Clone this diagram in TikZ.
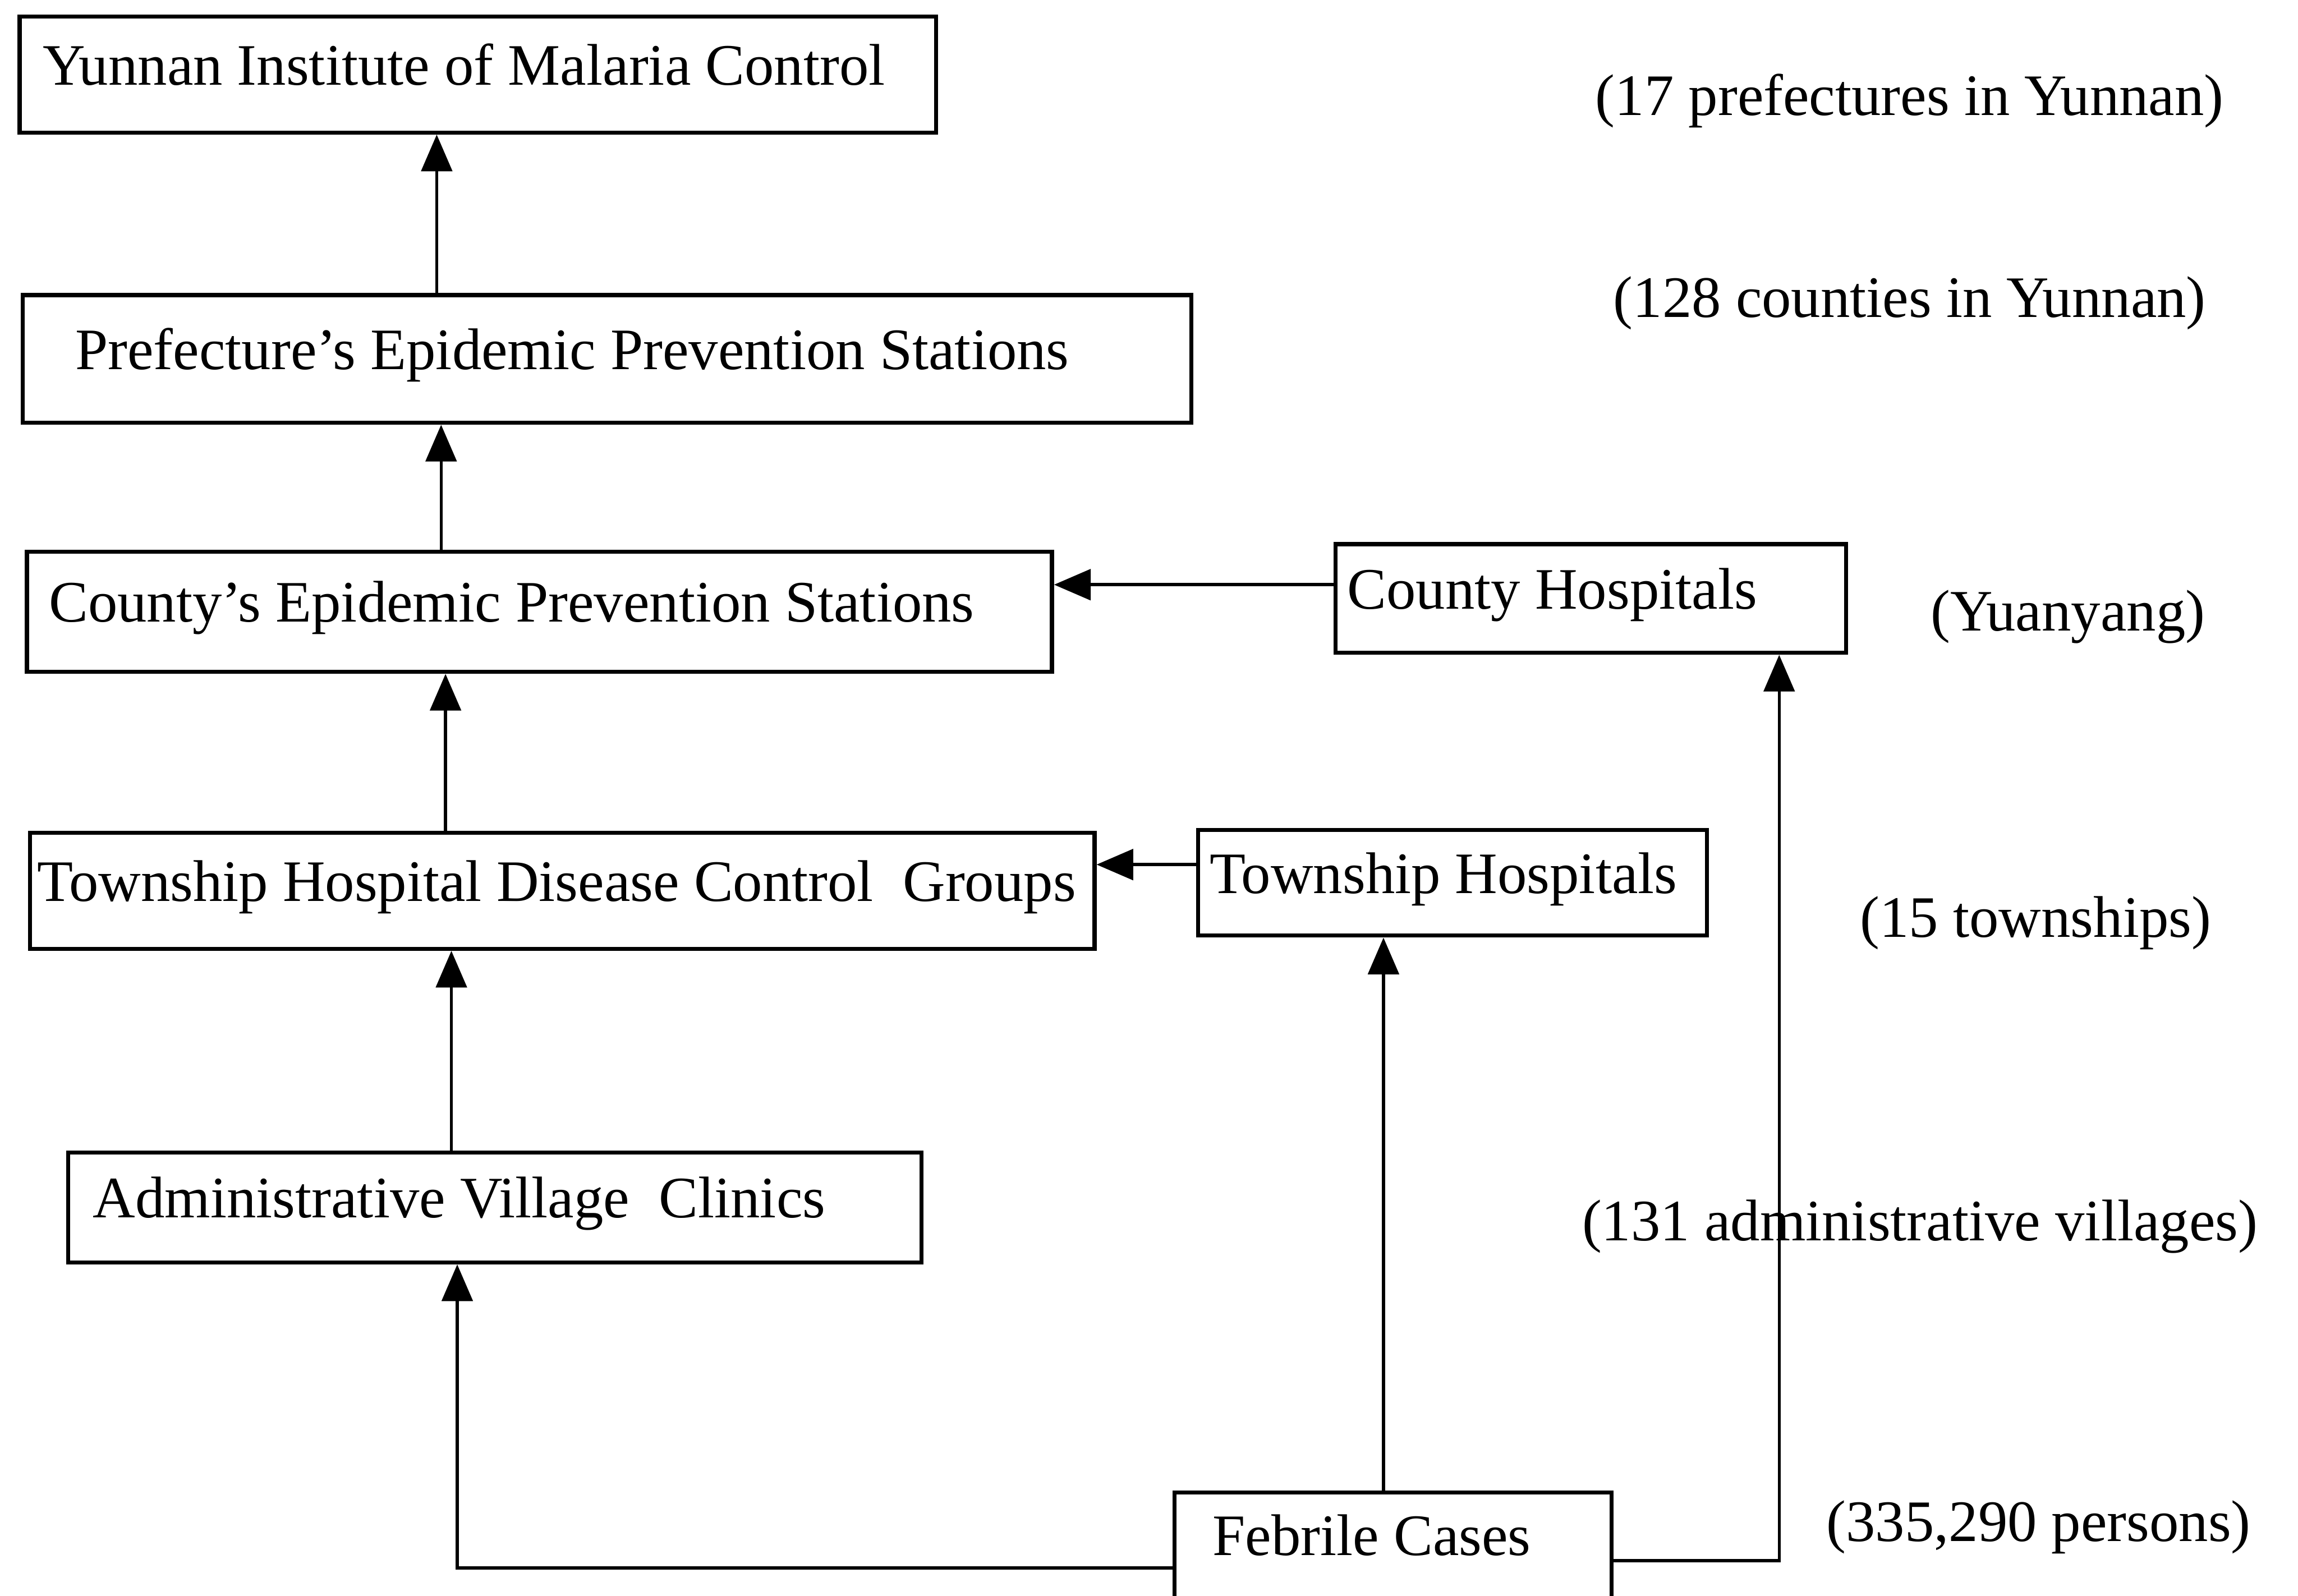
\documentclass[tikz,border=0pt]{standalone}
\usepackage{fontspec}
\setmainfont{Liberation Serif}
\usetikzlibrary{arrows.meta,positioning}
\tikzset{
  box/.style={draw,line width=0.8pt,rectangle,anchor=north west,align=flush left,
              inner ysep=0pt,text height=0.7em,text depth=0.3em,
              font=\fontsize{11.4}{13}\selectfont},
  flow/.style={-{Triangle[length=2.5mm,width=2.1mm]},line width=0.6pt},
  note/.style={font=\fontsize{11.4}{13}\selectfont}
}
\begin{document}
\begin{tikzpicture}[x=0.01cm,y=-0.01cm]
  \useasboundingbox (0,0) rectangle (1568,1089);
  % reporting levels
  \node[box,text width=5.93cm,inner xsep=0.16cm,minimum height=0.79cm] (yunnan) at (12,10) {Yunnan Institute of Malaria Control};
  \node[box,text width=7.25cm,inner xsep=0.36cm,minimum height=0.87cm] (prefecture) at (14,200) {Prefecture's Epidemic Prevention Stations};
  \node[box,text width=6.69cm,inner xsep=0.15cm,minimum height=0.82cm] (countyeps) at (17,375) {County's Epidemic Prevention Stations};
  \node[box,text width=3.32cm,inner xsep=0.08cm,minimum height=0.74cm] (countyhosp) at (910,370) {County Hospitals};
  \node[box,text width=7.16cm,inner xsep=0.05cm,minimum height=0.79cm] (groups) at (19,567) {Township Hospital Disease Control\ \ Groups};
  \node[box,text width=3.31cm,inner xsep=0.08cm,minimum height=0.72cm] (township) at (816,565) {Township Hospitals};
  \node[box,text width=5.48cm,inner xsep=0.17cm,minimum height=0.75cm] (admin) at (45,785) {Administrative Village\ \ Clinics};
  \node[box,text width=2.46cm,inner xsep=0.26cm,minimum height=0.72cm] (febrile) at (800,1017) {Febrile Cases};

  % counts
  \node[note] (nprefectures) at (1303,69) {(17 prefectures in Yunnan)};
  \node[note] (ncounties) at (1303,207) {(128 counties in Yunnan)};
  \node[note] (ncounty) at (1411,421) {(Yuanyang)};
  \node[note] (ntownships) at (1389,630) {(15 townships)};
  \node[note] (nvillages) at (1310,837) {(131 administrative villages)};
  \node[note] (npersons) at (1391,1042) {(335,290 persons)};

  \draw[flow] (prefecture.north -| 298,0) -- (yunnan.south -| 298,0);
  \draw[flow] (countyeps.north -| 301,0) -- (prefecture.south -| 301,0);
  \draw[flow] (groups.north -| 304,0) -- (countyeps.south -| 304,0);
  \draw[flow] (admin.north -| 308,0) -- (groups.south -| 308,0);
  \draw[flow] (countyhosp.west |- 0,399) -- (countyeps.east |- 0,399);
  \draw[flow] (township.west |- 0,590) -- (groups.east |- 0,590);
  \draw[flow] (febrile.west |- 0,1070) -| (admin.south -| 312,0);
  \draw[flow] (febrile.north -| 944,0) -- (township.south -| 944,0);
  \draw[flow] (febrile.east |- 0,1065) -| (countyhosp.south -| 1214,0);
\end{tikzpicture}
\end{document}
